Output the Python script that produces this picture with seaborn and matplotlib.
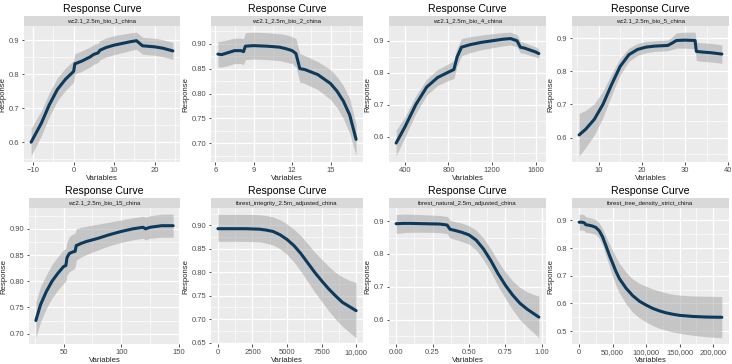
import matplotlib
matplotlib.use("Agg")
import numpy as np
import pandas as pd
import seaborn as sns
import matplotlib.pyplot as plt
from matplotlib.ticker import AutoMinorLocator

# ---- data ----
names = ["wc2.1_2.5m_bio_1_china", "wc2.1_2.5m_bio_2_china", "wc2.1_2.5m_bio_4_china",
         "wc2.1_2.5m_bio_5_china", "wc2.1_2.5m_bio_15_china", "forest_integrity_2.5m_adjusted_china",
         "forest_natural_2.5m_adjusted_china", "forest_tree_density_strict_china"]

x1 = [-10.5, -8, -6, -4, -2, 0, 0.3, 2, 4, 5, 6, 6.5, 8, 10, 12, 14, 15.5, 17, 18, 20, 22, 24.5]
y1 = [0.600, 0.655, 0.710, 0.755, 0.785, 0.808, 0.830, 0.838, 0.850, 0.858, 0.862, 0.870, 0.878, 0.885, 0.890, 0.895, 0.898, 0.883, 0.882, 0.880, 0.876, 0.868]
lo1 = [0.560, 0.618, 0.675, 0.722, 0.752, 0.776, 0.800, 0.808, 0.821, 0.829, 0.834, 0.842, 0.850, 0.857, 0.863, 0.869, 0.873, 0.858, 0.857, 0.855, 0.851, 0.843]
hi1 = [0.640, 0.692, 0.745, 0.789, 0.818, 0.840, 0.860, 0.868, 0.879, 0.887, 0.890, 0.898, 0.906, 0.913, 0.917, 0.921, 0.923, 0.908, 0.907, 0.905, 0.901, 0.893]

x2 = [6.2, 6.5, 7, 7.5, 8, 8.2, 8.35, 9, 10, 11, 11.5, 12, 12.3, 12.6, 13, 14, 15, 15.5, 16, 16.5, 17]
y2 = [0.879, 0.878, 0.882, 0.886, 0.886, 0.884, 0.895, 0.896, 0.895, 0.893, 0.890, 0.886, 0.880, 0.850, 0.848, 0.838, 0.820, 0.805, 0.785, 0.757, 0.708]
lo2 = [0.853, 0.853, 0.856, 0.860, 0.860, 0.858, 0.868, 0.869, 0.868, 0.866, 0.863, 0.860, 0.853, 0.823, 0.820, 0.808, 0.788, 0.772, 0.750, 0.720, 0.675]
hi2 = [0.904, 0.905, 0.908, 0.911, 0.911, 0.910, 0.922, 0.923, 0.922, 0.920, 0.918, 0.914, 0.910, 0.880, 0.876, 0.864, 0.848, 0.834, 0.816, 0.790, 0.738]

x3 = [320, 400, 500, 600, 700, 800, 850, 880, 920, 1000, 1100, 1200, 1300, 1370, 1430, 1460, 1500, 1600, 1630]
y3 = [0.580, 0.630, 0.700, 0.755, 0.785, 0.802, 0.810, 0.850, 0.880, 0.888, 0.895, 0.900, 0.905, 0.907, 0.900, 0.880, 0.877, 0.865, 0.860]
lo3 = [0.540, 0.598, 0.672, 0.730, 0.760, 0.776, 0.782, 0.822, 0.853, 0.863, 0.872, 0.878, 0.884, 0.887, 0.881, 0.862, 0.860, 0.849, 0.845]
hi3 = [0.620, 0.662, 0.728, 0.780, 0.810, 0.828, 0.838, 0.878, 0.907, 0.913, 0.918, 0.922, 0.926, 0.927, 0.919, 0.898, 0.894, 0.881, 0.875]

x4 = [5.5, 7, 9, 11, 13, 15, 17, 19, 21, 23, 26, 27, 28, 30, 32.3, 32.6, 34, 36, 38.5]
y4 = [0.608, 0.625, 0.655, 0.700, 0.760, 0.815, 0.850, 0.866, 0.873, 0.876, 0.878, 0.885, 0.893, 0.894, 0.893, 0.860, 0.858, 0.856, 0.852]
lo4 = [0.545, 0.570, 0.608, 0.660, 0.728, 0.790, 0.830, 0.848, 0.856, 0.860, 0.862, 0.866, 0.870, 0.870, 0.868, 0.832, 0.830, 0.828, 0.824]
hi4 = [0.673, 0.682, 0.702, 0.740, 0.792, 0.840, 0.870, 0.884, 0.890, 0.892, 0.894, 0.904, 0.916, 0.918, 0.918, 0.888, 0.886, 0.884, 0.880]

x5 = [26, 30, 35, 40, 45, 50, 52, 53, 55, 58, 60, 61, 65, 70, 80, 90, 100, 110, 119, 121, 125, 135, 145]
y5 = [0.725, 0.755, 0.780, 0.800, 0.815, 0.828, 0.830, 0.845, 0.853, 0.856, 0.857, 0.868, 0.872, 0.876, 0.882, 0.889, 0.895, 0.900, 0.903, 0.900, 0.903, 0.906, 0.906]
lo5 = [0.692, 0.722, 0.748, 0.768, 0.783, 0.796, 0.800, 0.812, 0.818, 0.822, 0.826, 0.840, 0.846, 0.851, 0.860, 0.868, 0.874, 0.879, 0.882, 0.879, 0.882, 0.884, 0.884]
hi5 = [0.760, 0.790, 0.812, 0.832, 0.847, 0.860, 0.862, 0.876, 0.885, 0.890, 0.892, 0.900, 0.903, 0.905, 0.909, 0.913, 0.917, 0.921, 0.924, 0.922, 0.925, 0.928, 0.928]

x6 = [0, 1000, 2000, 3000, 3500, 4000, 4500, 5000, 5500, 6000, 6500, 7000, 7500, 8000, 8500, 9000, 9500, 10000]
y6 = [0.893, 0.893, 0.893, 0.892, 0.890, 0.887, 0.880, 0.870, 0.857, 0.840, 0.820, 0.800, 0.782, 0.765, 0.750, 0.736, 0.727, 0.718]
lo6 = [0.866, 0.866, 0.866, 0.865, 0.862, 0.858, 0.850, 0.838, 0.822, 0.802, 0.780, 0.758, 0.738, 0.718, 0.700, 0.685, 0.672, 0.660]
hi6 = [0.924, 0.924, 0.924, 0.923, 0.921, 0.918, 0.912, 0.903, 0.892, 0.878, 0.861, 0.843, 0.828, 0.813, 0.800, 0.790, 0.783, 0.778]

x7 = [0, 0.05, 0.1, 0.2, 0.3, 0.35, 0.37, 0.4, 0.45, 0.5, 0.55, 0.6, 0.65, 0.7, 0.75, 0.8, 0.85, 0.9, 0.95, 0.98]
y7 = [0.892, 0.893, 0.893, 0.892, 0.891, 0.888, 0.875, 0.872, 0.866, 0.858, 0.842, 0.815, 0.780, 0.740, 0.705, 0.675, 0.650, 0.632, 0.617, 0.608]
lo7 = [0.862, 0.865, 0.866, 0.866, 0.865, 0.862, 0.848, 0.845, 0.838, 0.830, 0.812, 0.782, 0.745, 0.702, 0.665, 0.630, 0.600, 0.578, 0.558, 0.545]
hi7 = [0.920, 0.921, 0.921, 0.919, 0.917, 0.914, 0.902, 0.899, 0.894, 0.886, 0.872, 0.848, 0.815, 0.778, 0.745, 0.718, 0.698, 0.685, 0.676, 0.672]

x8 = [0, 5000, 8000, 10000, 15000, 20000, 25000, 30000, 35000, 40000, 45000, 50000, 55000, 60000, 70000,
      80000, 90000, 100000, 110000, 120000, 130000, 140000, 150000, 170000, 190000, 213000]
y8 = [0.893, 0.893, 0.890, 0.884, 0.882, 0.879, 0.874, 0.862, 0.840, 0.808, 0.775, 0.745, 0.715, 0.690, 0.655,
      0.628, 0.608, 0.594, 0.582, 0.573, 0.566, 0.561, 0.557, 0.553, 0.551, 0.550]
lo8 = [0.864, 0.865, 0.862, 0.856, 0.855, 0.852, 0.848, 0.835, 0.810, 0.772, 0.735, 0.697, 0.665, 0.638, 0.598,
       0.568, 0.548, 0.533, 0.520, 0.510, 0.503, 0.497, 0.492, 0.485, 0.480, 0.476]
hi8 = [0.922, 0.922, 0.919, 0.912, 0.910, 0.907, 0.902, 0.890, 0.870, 0.842, 0.815, 0.792, 0.767, 0.745, 0.712,
       0.688, 0.672, 0.662, 0.652, 0.645, 0.638, 0.633, 0.630, 0.627, 0.626, 0.625]

xticks = [[-10, 0, 10, 20], [6, 9, 12, 15], [400, 800, 1200, 1600], [10, 20, 30, 40],
          [50, 100, 150], [0, 2500, 5000, 7500, 10000], [0, 0.25, 0.5, 0.75, 1.0],
          [0, 50000, 100000, 150000, 200000]]
xlabels = [["\u221210", "0", "10", "20"], ["6", "9", "12", "15"], ["400", "800", "1200", "1600"],
           ["10", "20", "30", "40"], ["50", "100", "150"], ["0", "2500", "5000", "7500", "10,000"],
           ["0.00", "0.25", "0.50", "0.75", "1.00"], ["0", "50,000", "100,000", "150,000", "200,000"]]
yticks = [[0.6, 0.7, 0.8, 0.9], [0.70, 0.75, 0.80, 0.85, 0.90], [0.6, 0.7, 0.8, 0.9], [0.6, 0.7, 0.8, 0.9],
          [0.70, 0.75, 0.80, 0.85, 0.90], [0.65, 0.70, 0.75, 0.80, 0.85, 0.90], [0.6, 0.7, 0.8, 0.9],
          [0.5, 0.6, 0.7, 0.8, 0.9]]
ydec = [1, 2, 1, 1, 2, 2, 1, 1]

xs = [x1, x2, x3, x4, x5, x6, x7, x8]
ys = [y1, y2, y3, y4, y5, y6, y7, y8]
los = [lo1, lo2, lo3, lo4, lo5, lo6, lo7, lo8]
his = [hi1, hi2, hi3, hi4, hi5, hi6, hi7, hi8]

# ---- layout (pixels) ----
W, H = 732, 364
cols = [[(24, 180), (211, 363), (389, 546), (572, 729)],
        [(29, 180), (211, 363), (389, 546), (572, 729)]]
rows = [(26, 162), (208, 344)]
strip_h = 10

sns.set_theme(style="darkgrid")
plt.rcParams['font.family'] = ['Liberation Sans', 'DejaVu Sans']

fig = plt.figure(figsize=(W / 100, H / 100), dpi=100)

for i in range(8):
    r, c = divmod(i, 4)
    left, right = cols[r][c]
    top, bottom = rows[r]
    ax = fig.add_axes([left / W, 1 - bottom / H, (right - left) / W, (bottom - top) / H])

    df = pd.DataFrame({"Variables": xs[i], "Response": ys[i], "lo": los[i], "hi": his[i]})
    ax.fill_between(df["Variables"], df["lo"], df["hi"], color="#A0A0A0", alpha=0.5, linewidth=0, zorder=2)
    sns.lineplot(data=df, x="Variables", y="Response", ax=ax, color="#0B3A5C", linewidth=2.2, zorder=3)

    # ggplot-like 5% expansion
    xmin, xmax = min(xs[i]), max(xs[i])
    ymin, ymax = min(los[i]), max(his[i])
    dx, dy = (xmax - xmin) * 0.05, (ymax - ymin) * 0.05
    ax.set_xlim(xmin - dx, xmax + dx)
    ax.set_ylim(ymin - dy, ymax + dy)

    ax.set_xticks(xticks[i])
    ax.set_xticklabels(xlabels[i])
    ax.set_yticks(yticks[i])
    ax.set_yticklabels([f"{v:.{ydec[i]}f}" for v in yticks[i]])
    ax.xaxis.set_minor_locator(AutoMinorLocator(2))
    ax.yaxis.set_minor_locator(AutoMinorLocator(2))

    ax.set_facecolor("#EBEBEB")
    ax.grid(which="major", color="white", linewidth=0.9)
    ax.grid(which="minor", color="white", linewidth=0.45)
    ax.set_axisbelow(True)
    for s in ax.spines.values():
        s.set_visible(False)
    ax.tick_params(which="major", bottom=True, left=True, length=1.8, width=0.6, color="#333333",
                   labelsize=5.5, labelcolor="#4D4D4D", pad=1.5)
    ax.tick_params(which="minor", bottom=False, left=False)
    ax.set_xlabel("Variables", fontsize=5.6, labelpad=1)
    ax.set_ylabel("Response", fontsize=5.6, labelpad=2)

    # facet strip
    sax = fig.add_axes([left / W, 1 - top / H, (right - left) / W, strip_h / H])
    sax.set_facecolor("#D9D9D9")
    sax.set_xticks([])
    sax.set_yticks([])
    sax.grid(False)
    for s in sax.spines.values():
        s.set_visible(False)
    sax.text(0.5, 0.5, names[i], ha="center", va="center", fontsize=4.4, color="#1A1A1A",
             transform=sax.transAxes)

    fig.text((left + right) / 2 / W, 1 - (top - strip_h - 7) / H, "Response Curve",
             ha="center", va="center", fontsize=7.6, color="black")

fig.savefig("out.png", dpi=100)
